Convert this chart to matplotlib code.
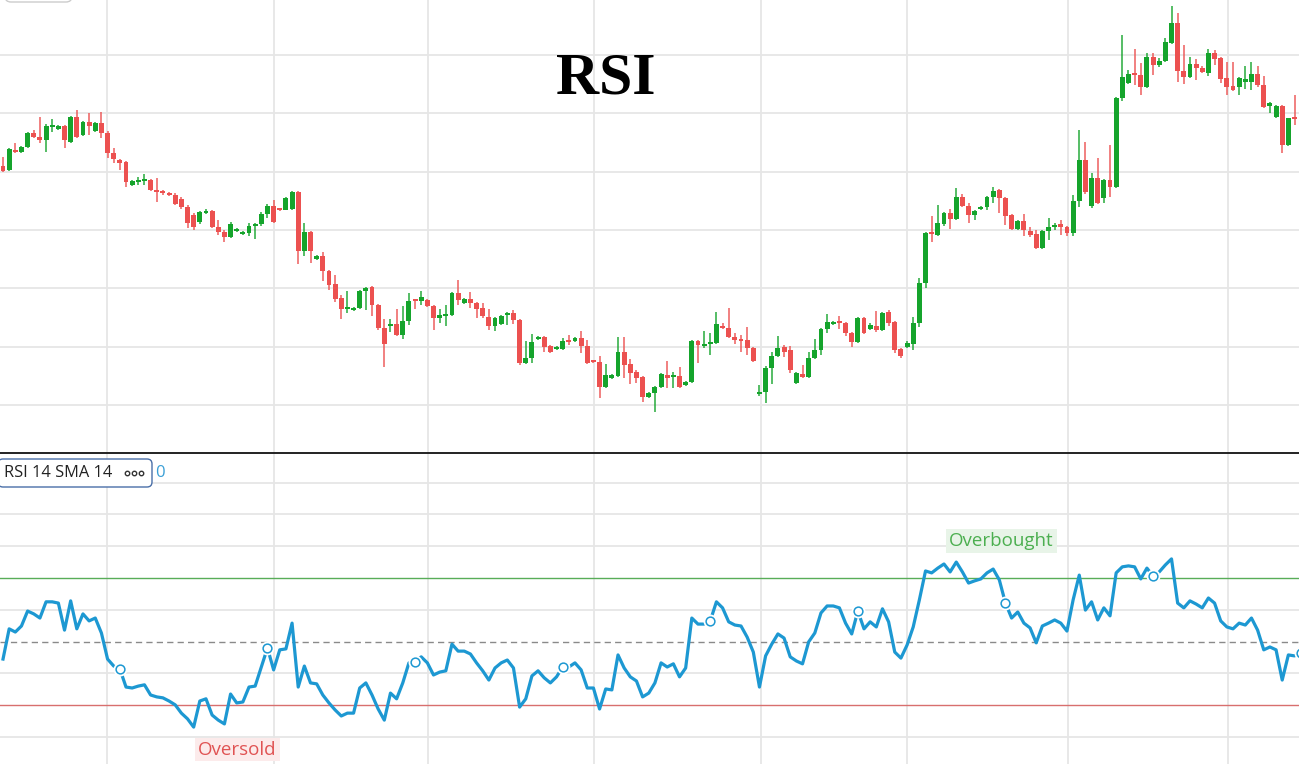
import numpy as np
import matplotlib.pyplot as plt
from matplotlib.patches import FancyBboxPatch
from matplotlib.lines import Line2D

# daily candles (price units are arbitrary, chart has no price axis)
opens = [334, 330, 350, 348, 353, 367, 363, 360, 373, 371,
         374, 358, 383, 365, 378, 369, 377, 367, 347, 340,
         338, 315, 318, 319, 320, 310, 308, 307, 305, 301,
         293, 285, 278, 287, 289, 273, 268, 263, 269, 266,
         267, 274, 276, 286, 294, 291, 290, 291, 308, 249,
         268, 241, 244, 229, 216, 202, 191, 190, 192, 209,
         213, 195, 172, 174, 176, 165, 179, 200, 199, 200,
         194, 182, 184, 185, 207, 197, 201, 197, 192, 183,
         174, 176, 185, 187, 180, 137, 142, 161, 163, 154,
         151, 151, 159, 159, 162, 154, 139, 138, 113, 122,
         124, 148, 136, 128, 123, 103, 107, 113, 125, 123,
         124, 115, 118, 159, 154, 156, 157, 174, 172, 163,
         161, 160, 152, 106, 108, 132, 144, 153, 150, 117,
         126, 123, 142, 150, 171, 176, 178, 177, 167, 158,
         182, 171, 174, 170, 188, 178, 151, 153, 156, 177,
         217, 267, 265, 276, 287, 281, 303, 294, 285, 291,
         293, 303, 310, 302, 285, 271, 279, 269, 266, 252,
         269, 273, 276, 273, 267, 299, 340, 294, 322, 302,
         320, 313, 402, 417, 427, 425, 413, 443, 435, 439,
         457, 477, 429, 423, 436, 432, 427, 447, 442, 422,
         414, 413, 418, 418, 426, 415, 394, 383, 394, 355,
         383]
highs = [343, 352, 357, 354, 368, 370, 383, 376, 381, 375,
         375, 384, 390, 379, 387, 378, 388, 369, 352, 341,
         339, 320, 323, 326, 321, 322, 310, 308, 307, 303,
         295, 287, 289, 291, 290, 280, 270, 278, 272, 269,
         277, 277, 288, 296, 300, 292, 303, 309, 309, 277,
         269, 245, 248, 230, 225, 205, 209, 193, 210, 213,
         214, 196, 181, 181, 191, 194, 207, 201, 209, 201,
         195, 191, 195, 208, 220, 202, 208, 198, 197, 191,
         183, 185, 188, 190, 181, 159, 166, 164, 164, 155,
         154, 162, 165, 163, 169, 160, 140, 144, 136, 126,
         163, 163, 141, 130, 124, 108, 114, 127, 139, 128,
         133, 119, 160, 160, 169, 167, 188, 177, 192, 167,
         165, 173, 153, 115, 134, 148, 164, 155, 154, 128,
         135, 148, 161, 172, 186, 179, 184, 178, 168, 183,
         183, 177, 189, 188, 190, 179, 152, 159, 183, 222,
         268, 284, 295, 288, 291, 312, 306, 297, 290, 294,
         304, 313, 311, 303, 286, 280, 286, 273, 270, 270,
         282, 277, 280, 274, 305, 370, 358, 327, 342, 321,
         355, 403, 465, 430, 451, 437, 447, 447, 442, 462,
         494, 487, 455, 443, 441, 434, 451, 450, 443, 438,
         438, 423, 434, 438, 434, 424, 398, 395, 395, 382,
         405]
lows = [328, 329, 347, 347, 352, 362, 357, 348, 368, 370,
        352, 357, 362, 364, 365, 368, 362, 342, 337, 330,
        313, 314, 315, 315, 309, 298, 305, 304, 295, 291,
        272, 270, 276, 286, 272, 265, 258, 262, 268, 265,
        264, 261, 274, 282, 277, 289, 290, 290, 236, 244,
        237, 240, 219, 210, 198, 181, 187, 189, 191, 190,
        184, 170, 133, 168, 164, 161, 175, 191, 195, 193,
        170, 177, 174, 184, 195, 196, 192, 182, 182, 170,
        169, 175, 175, 176, 135, 136, 137, 160, 148, 147,
        150, 150, 155, 158, 147, 136, 137, 102, 112, 121,
        123, 122, 116, 117, 98, 102, 88, 112, 112, 112,
        112, 114, 117, 137, 152, 145, 156, 171, 162, 156,
        148, 145, 138, 104, 97, 116, 143, 143, 127, 116,
        122, 122, 141, 145, 167, 175, 171, 164, 153, 157,
        166, 170, 168, 169, 174, 147, 142, 152, 150, 173,
        212, 258, 264, 274, 271, 280, 293, 277, 280, 290,
        290, 297, 287, 275, 270, 270, 264, 263, 251, 251,
        260, 270, 265, 264, 264, 293, 306, 292, 296, 297,
        303, 312, 399, 416, 415, 405, 412, 425, 433, 438,
        456, 418, 416, 422, 420, 427, 424, 435, 417, 405,
        409, 405, 411, 410, 413, 392, 387, 382, 347, 354,
        375]
closes = [329, 351, 348, 353, 367, 363, 360, 374, 375, 374,
          360, 383, 363, 378, 374, 377, 367, 347, 341, 337,
          318, 319, 320, 321, 310, 308, 307, 305, 296, 293,
          277, 273, 288, 289, 273, 268, 263, 276, 271, 267,
          274, 276, 286, 294, 278, 290, 302, 308, 249, 268,
          249, 244, 229, 215, 201, 191, 192, 192, 209, 212,
          195, 172, 156, 176, 165, 179, 199, 199, 203, 194,
          182, 185, 186, 207, 200, 201, 197, 191, 184, 174,
          182, 184, 187, 180, 137, 142, 158, 163, 153, 148,
          153, 159, 158, 162, 154, 137, 138, 113, 125, 125,
          148, 135, 127, 122, 103, 107, 113, 126, 122, 124,
          113, 118, 159, 155, 156, 157, 176, 172, 163, 160,
          159, 152, 139, 108, 132, 144, 152, 148, 130, 127,
          123, 142, 150, 171, 178, 178, 177, 167, 158, 182,
          167, 175, 170, 187, 177, 150, 144, 157, 177, 217,
          267, 266, 277, 287, 281, 303, 294, 285, 289, 293,
          303, 309, 302, 284, 271, 279, 270, 265, 252, 269,
          273, 274, 273, 267, 299, 340, 308, 322, 297, 320,
          313, 402, 423, 426, 425, 413, 443, 435, 439, 458,
          477, 429, 423, 436, 432, 428, 447, 441, 421, 413,
          410, 422, 421, 426, 415, 393, 397, 394, 355, 382,
          381]

# RSI(14) per candle, one extra point running off the right edge
rsi = [44.5, 54.0, 53.0, 54.9, 59.6, 58.7, 57.4, 62.5, 62.5, 62.1,
       53.6, 62.8, 54.0, 58.7, 56.5, 57.4, 52.7, 44.5, 42.3, 41.4,
       35.7, 35.4, 36.0, 36.4, 33.2, 32.6, 32.3, 31.3, 30.1, 27.5,
       25.7, 23.1, 31.3, 32.0, 26.9, 25.3, 24.1, 33.5, 30.7, 31.0,
       35.7, 36.0, 42.0, 48.0, 41.1, 47.4, 47.7, 55.8, 35.7, 42.3,
       37.0, 36.7, 33.2, 30.7, 28.5, 26.6, 27.5, 27.5, 35.4, 37.0,
       33.2, 28.8, 25.3, 33.8, 32.0, 37.0, 43.3, 43.6, 45.2, 43.3,
       39.5, 40.4, 40.8, 49.2, 47.0, 47.0, 46.1, 43.3, 40.8, 37.9,
       41.7, 43.3, 44.2, 41.7, 29.4, 32.0, 39.2, 40.8, 38.6, 37.0,
       38.9, 42.0, 42.0, 43.3, 41.1, 35.4, 35.4, 28.8, 35.1, 34.8,
       45.8, 41.7, 38.9, 37.6, 32.6, 33.8, 37.0, 43.3, 42.0, 43.0,
       38.9, 41.7, 57.4, 55.5, 55.5, 56.5, 62.5, 60.6, 56.2, 55.2,
       54.9, 51.4, 46.7, 35.7, 45.5, 49.2, 52.4, 51.1, 45.2, 43.9,
       43.0, 49.9, 52.7, 59.0, 61.2, 61.2, 60.6, 55.8, 52.4, 59.6,
       54.0, 56.2, 54.6, 60.3, 56.2, 46.7, 44.8, 48.9, 54.6, 63.1,
       72.2, 71.6, 73.1, 74.4, 71.9, 75.0, 71.9, 68.4, 69.1, 69.7,
       71.6, 72.8, 69.4, 62.1, 57.4, 59.3, 55.8, 54.3, 49.6, 54.9,
       55.8, 56.8, 55.8, 53.3, 63.1, 70.9, 59.9, 62.5, 56.8, 60.6,
       58.1, 71.6, 73.5, 73.8, 73.5, 69.7, 73.1, 70.6, 71.9, 74.1,
       76.0, 62.1, 60.6, 62.8, 61.8, 60.6, 63.7, 62.1, 56.5, 54.6,
       54.0, 55.8, 55.2, 57.4, 53.6, 47.4, 48.3, 47.4, 37.9, 45.8,
       45.5, 46.4]
marker_idx = [19, 43, 67, 91, 115, 139, 163, 187, 211]

# date gridlines (candle index)
x_grid = [16.9, 44.1, 69.1, 96.1, 123.3, 147.0, 173.2, 199.2]
price_grid = np.linspace(95, 445, 7)
rsi_grid = [20, 40, 60, 80, 90, 100]
overbought, middle, oversold = 70, 50, 30

green = '#15a42c'
red = '#ec5150'
blue = '#1d98d2'
gridc = '#e6e6e6'

fig = plt.figure(figsize=(12.99, 7.64), dpi=100)
ax = fig.add_axes([0, 311 / 764, 1, 453 / 764])
ax2 = fig.add_axes([0, 0, 1, 311 / 764])
xlim = (-0.49, 210.73)

# price panel
o = np.array(opens)
c = np.array(closes)
idx = np.arange(len(o))
cols = np.where(c >= o, green, red)
ax.vlines(idx, lows, highs, colors=cols, lw=1.2, alpha=0.85, zorder=2)
ax.bar(idx, np.maximum(np.abs(c - o), 1.8), bottom=np.minimum(o, c),
       width=0.8, color=cols, linewidth=0, zorder=3)
ax.set_xlim(xlim)
ax.set_ylim(47, 500)
ax.set_xticks(x_grid)
ax.set_yticks(price_grid)
ax.grid(True, color=gridc, lw=1.3)
ax.set_axisbelow(True)
ax.tick_params(left=False, bottom=False, labelleft=False, labelbottom=False)
for s in ax.spines.values():
    s.set_visible(False)

fig.text(606 / 1299, (764 - 94) / 764, 'RSI', ha='center', va='baseline',
         fontsize=43, fontweight='bold', family='Liberation Serif', color='black')

# RSI panel
ax2.plot(np.arange(len(rsi)), rsi, color=blue, lw=2.3, zorder=4)
mx = np.array(marker_idx)
my = np.array(rsi)[mx]
ax2.plot(mx, my, 'o', ms=9, color='white', mec='white', zorder=5)
ax2.plot(mx, my, 'o', ms=6.3, mfc='white', mec=blue, mew=1.1, zorder=6)
ax2.axhline(overbought, color='#58ad58', lw=1.0, zorder=3)
ax2.axhline(oversold, color='#d86f6e', lw=1.0, zorder=3)
ax2.axhline(middle, color='#8a8a8a', lw=1.0, dashes=(4.5, 3), zorder=3)
ax2.set_xlim(xlim)
ax2.set_ylim(11.5, 109.3)
ax2.set_xticks(x_grid)
ax2.set_yticks(rsi_grid)
ax2.grid(True, color=gridc, lw=1.3)
ax2.set_axisbelow(True)
ax2.tick_params(left=False, bottom=False, labelleft=False, labelbottom=False)
for k, s in ax2.spines.items():
    s.set_visible(k == 'top')
ax2.spines['top'].set_color('#222222')
ax2.spines['top'].set_linewidth(1.4)

ax2.text(0.771, 0.717, 'Overbought', transform=ax2.transAxes, ha='center', va='center',
         fontsize=13.5, family='Open Sans', color='#4caf50',
         bbox=dict(boxstyle='square,pad=0.15', fc='#e8f4e8', ec='none'), zorder=7)
ax2.text(0.1828, 0.0466, 'Oversold', transform=ax2.transAxes, ha='center', va='center',
         fontsize=13.5, family='Open Sans', color='#e05353',
         bbox=dict(boxstyle='square,pad=0.15', fc='#fcebeb', ec='none'), zorder=7)

# indicator legend box (coordinates in inches from bottom-left, 1 px = 0.01 in)
tr = fig.dpi_scale_trans
fig.add_artist(FancyBboxPatch((-0.02, 2.77), 1.54, 0.28,
                              boxstyle='round,pad=0,rounding_size=0.05',
                              fc='white', ec='#4a6fa8', lw=1.0, transform=tr, zorder=8))
fig.text(0.04, 2.91, 'RSI 14 SMA 14', transform=tr, ha='left', va='center',
         fontsize=11.8, family='Open Sans', color='#222222', zorder=9)
for dx in (1.27, 1.34, 1.41):
    fig.add_artist(Line2D([dx], [2.91], marker='o', ms=3.2, mfc='white', mec='#333333',
                          mew=1.0, transform=tr, zorder=9))
fig.text(1.55, 2.91, '0', transform=tr, ha='left', va='center',
         fontsize=12, family='Open Sans', color='#3a9fd6', zorder=9)

# partial toolbar box at the top edge
fig.add_artist(FancyBboxPatch((0.05, 7.62), 0.67, 0.3,
                              boxstyle='round,pad=0,rounding_size=0.06',
                              fc='white', ec='#cccccc', lw=1.0, transform=tr, zorder=8))

fig.savefig('out.png', dpi=100)
